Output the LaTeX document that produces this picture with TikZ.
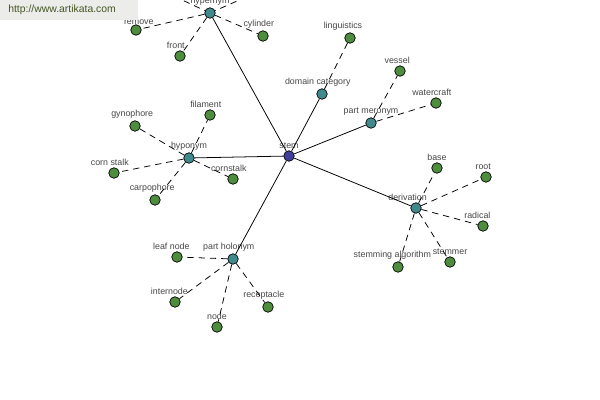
\documentclass[tikz,border=0pt]{standalone}
\usepackage{fontspec}
\setmainfont{Liberation Sans}
\definecolor{leafgreen}{RGB}{78,140,62}
\definecolor{hubteal}{RGB}{64,138,142}
\definecolor{rootblue}{RGB}{64,64,156}
\definecolor{lblgray}{RGB}{70,70,70}
\definecolor{urlbox}{RGB}{236,236,234}
\definecolor{urltext}{RGB}{66,86,36}

\begin{document}
\begin{tikzpicture}[x=0.025cm,y=-0.025cm]
\tikzstyle{lbl}=[text=lblgray,font=\fontsize{6.3}{7}\selectfont,inner sep=1pt]
\tikzstyle{w}=[draw,circle,minimum size=7.5pt,inner sep=0pt,line width=0.5pt,fill=leafgreen]
\tikzstyle{h}=[w,fill=hubteal]
\tikzstyle{r}=[w,fill=rootblue]
\tikzstyle{e}=[draw,line width=0.55pt]
\tikzstyle{d}=[draw,line width=0.55pt,dash pattern=on 4.5pt off 3.5pt]
   \useasboundingbox (0,0) rectangle (600,400);
   \clip (0,0) rectangle (600,400);

   % edges first, circles on top
   \coordinate (hl) at (150,-15);
   \coordinate (hr) at (262,-10);
   \path [d] (210,13) -- (hl);
   \path [d] (210,13) -- (hr);

   \draw (289,156) node (stem) [r,label={[lbl]above:stem}] {};

   \draw (210,13) node (hyper) [h,label={[lbl]above:hypernym}] {};
   \draw (322,94) node (domain) [h,label={[lbl,xshift=-3pt]above:domain category}] {};
   \draw (371,123) node (mero) [h,label={[lbl]above:part meronym}] {};
   \draw (189,158) node (hypo) [h,label={[lbl]above:hyponym}] {};
   \draw (233,259) node (holo) [h,label={[lbl,xshift=-3pt]above:part holonym}] {};
   \draw (416,208) node (deriv) [h,label={[lbl,xshift=-6pt]above:derivation}] {};

   \draw (136,30) node (remove) [w,label={[lbl,xshift=2pt,yshift=-1pt]above:remove}] {};
   \draw (180,56) node (front) [w,label={[lbl,xshift=-3pt]above:front}] {};
   \draw (263,36) node (cyl) [w,label={[lbl,xshift=-3pt]above:cylinder}] {};
   \draw (350,38) node (ling) [w,label={[lbl,xshift=-5pt]above:linguistics}] {};
   \draw (400,71) node (vessel) [w,label={[lbl,xshift=-2pt]above:vessel}] {};
   \draw (436,103) node (water) [w,label={[lbl,xshift=-3pt]above:watercraft}] {};
   \draw (135,126) node (gyno) [w,label={[lbl,xshift=-2pt]above:gynophore}] {};
   \draw (210,115) node (fila) [w,label={[lbl,xshift=-3pt]above:filament}] {};
   \draw (114,173) node (cornsp) [w,label={[lbl,xshift=-3pt]above:corn stalk}] {};
   \draw (155,200) node (carpo) [w,label={[lbl,xshift=-2pt]above:carpophore}] {};
   \draw (233,179) node (corn) [w,label={[lbl,xshift=-3pt]above:cornstalk}] {};
   \draw (177,257) node (leaf) [w,label={[lbl,xshift=-4pt]above:leaf node}] {};
   \draw (175,302) node (inter) [w,label={[lbl,xshift=-4pt]above:internode}] {};
   \draw (217,327) node (node) [w,label={[lbl]above:node}] {};
   \draw (268,307) node (recep) [w,label={[lbl,xshift=-3pt]above:receptacle}] {};
   \draw (437,168) node (base) [w,label={[lbl]above:base}] {};
   \draw (486,177) node (root) [w,label={[lbl,xshift=-2pt]above:root}] {};
   \draw (483,226) node (radic) [w,label={[lbl,xshift=-4pt]above:radical}] {};
   \draw (450,262) node (stemr) [w,label={[lbl]above:stemmer}] {};
   \draw (398,267) node (stalg) [w,label={[lbl,xshift=-4pt]above:stemming algorithm}] {};

   \path [e] (stem) -- (hyper) ;
   \path [e] (stem) -- (domain) ;
   \path [e] (stem) -- (mero) ;
   \path [e] (stem) -- (hypo) ;
   \path [e] (stem) -- (holo) ;
   \path [e] (stem) -- (deriv) ;

   \path [d] (hyper) -- (remove) ;
   \path [d] (hyper) -- (front) ;
   \path [d] (hyper) -- (cyl) ;
   \path [d] (domain) -- (ling) ;
   \path [d] (mero) -- (vessel) ;
   \path [d] (mero) -- (water) ;
   \path [d] (hypo) -- (gyno) ;
   \path [d] (hypo) -- (fila) ;
   \path [d] (hypo) -- (cornsp) ;
   \path [d] (hypo) -- (carpo) ;
   \path [d] (hypo) -- (corn) ;
   \path [d] (holo) -- (leaf) ;
   \path [d] (holo) -- (inter) ;
   \path [d] (holo) -- (node) ;
   \path [d] (holo) -- (recep) ;
   \path [d] (deriv) -- (base) ;
   \path [d] (deriv) -- (root) ;
   \path [d] (deriv) -- (radic) ;
   \path [d] (deriv) -- (stemr) ;
   \path [d] (deriv) -- (stalg) ;

   % site stamp
   \path [fill=urlbox] (0,0) rectangle (138,20);
   \draw (8,10) node (url) [anchor=west,inner sep=0pt,text=urltext,font=\fontsize{7.4}{9}\selectfont] {http://www.artikata.com};
\end{tikzpicture}
\end{document}
